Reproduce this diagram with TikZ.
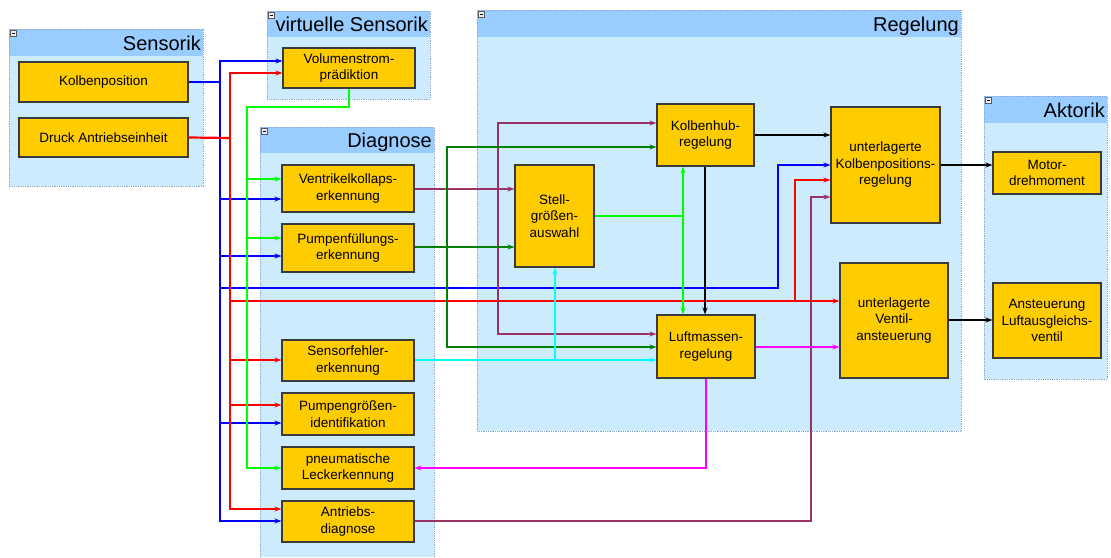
\documentclass[tikz,border=0pt]{standalone}
\usepackage{fontspec}
\setmainfont{Liberation Sans}
\usetikzlibrary{arrows.meta,calc}
\definecolor{grpbg}{HTML}{CCEBFD}
\definecolor{hdrbg}{HTML}{99CCFF}
\definecolor{grpln}{HTML}{8EA6D6}
\definecolor{boxfill}{HTML}{FFCC00}
\definecolor{boxln}{HTML}{3A3A3A}
\definecolor{cpurple}{HTML}{993366}
\definecolor{cdgreen}{HTML}{008000}
\definecolor{cgreen}{HTML}{00FF00}
\definecolor{ccyan}{HTML}{00FFFF}
\definecolor{cmag}{HTML}{FF00FF}
\definecolor{cblue}{HTML}{0000FF}
\definecolor{cred}{HTML}{FF0000}
\tikzset{
  grpborder/.style={draw=grpln, densely dotted, line width=0.8pt},
  grptitle/.style={font=\fontsize{20}{24}\selectfont, inner sep=0pt},
  iconbox/.style={fill=gray!12, draw=gray!70!black, line width=0.4pt},
  iconline/.style={draw=black, line width=0.6pt},
  ybox/.style={draw=boxln, fill=boxfill, line width=1.1pt, align=center, inner sep=0pt,
    font=\fontsize{13.5}{16.5}\selectfont},
  arr/.style={-{Stealth[length=7pt,width=5pt]}},
  wb/.style={draw=cblue, line width=2.2pt},
  wr/.style={draw=cred, line width=2.2pt},
  wg/.style={draw=cgreen, line width=2.2pt},
  wc/.style={draw=ccyan, line width=2.2pt},
  wm/.style={draw=cmag, line width=2.2pt},
  wp/.style={draw=cpurple, line width=1.8pt},
  wd/.style={draw=cdgreen, line width=1.8pt},
  wk/.style={draw=black, line width=1.8pt},
}
\newcommand{\mygroup}[7]{% name, x1, y1, x2, y2, header bottom, title
  \fill[grpbg] (#2,#3) rectangle (#4,#5);
  \fill[hdrbg] (#2,#3) rectangle (#4,#6);
  \draw[grpborder] (#2,#3) rectangle (#4,#5);
  \node[grptitle, anchor=base east] (#1) at ({#4-2},{#6-5.5}) {#7};
  \draw[iconbox] ({#2+1.5},{#3+1.5}) rectangle ({#2+7.5},{#3+7.5});
  \draw[iconline] ({#2+3},{#3+4.5}) -- ({#2+6},{#3+4.5});
}
\begin{document}
\begin{tikzpicture}[x=1pt,y=-1pt]
\useasboundingbox (0,0) rectangle (1111,557);

% ---------- groups ----------
\mygroup{tsens}{9}{29}{203}{186}{56}{Sensorik}
\mygroup{tvirt}{267}{11}{430}{99}{37}{virtuelle Sensorik}
\mygroup{treg}{477}{10}{961}{431}{37}{Regelung}
\mygroup{takt}{984}{96}{1107}{379}{123}{Aktorik}
% Diagnose (runs off the bottom edge)
\fill[grpbg] (260,127) rectangle (434,557);
\fill[hdrbg] (260,127) rectangle (434,153);
\draw[grpborder] (260,557) -- (260,127) -- (434,127) -- (434,557);
\node[grptitle, anchor=base east] (tdiag) at (432,147.5) {Diagnose};
\draw[iconbox] (261.5,128.5) rectangle (267.5,134.5);
\draw[iconline] (263,131.5) -- (266,131.5);

% ---------- boxes ----------
\node[ybox, minimum width=169pt, minimum height=40pt] (kolb) at (103.5,82) {Kolbenposition};
\node[ybox, minimum width=169pt, minimum height=39pt] (druck) at (103.5,137.5) {Druck Antriebseinheit};
\node[ybox, minimum width=132pt, minimum height=40pt] (vol) at (349,68) {Volumenstrom-\\prädiktion};
\node[ybox, minimum width=132pt, minimum height=47pt] (vent) at (348,188.5) {Ventrikelkollaps-\\erkennung};
\node[ybox, minimum width=132pt, minimum height=48pt] (pfuell) at (348,248) {Pumpenfüllungs-\\erkennung};
\node[ybox, minimum width=132pt, minimum height=41pt] (sensf) at (348,360.5) {Sensorfehler-\\erkennung};
\node[ybox, minimum width=132pt, minimum height=42pt] (pgroe) at (348,414) {Pumpengrößen-\\identifikation};
\node[ybox, minimum width=132pt, minimum height=42pt] (pneu) at (348,468) {pneumatische\\Leckerkennung};
\node[ybox, minimum width=132pt, minimum height=41pt] (antr) at (348,521.5) {Antriebs-\\diagnose};
\node[ybox, minimum width=97pt, minimum height=62pt] (khub) at (705.5,135) {Kolbenhub-\\regelung};
\node[ybox, minimum width=79pt, minimum height=102pt] (stell) at (554.5,216) {Stell-\\größen-\\auswahl};
\node[ybox, minimum width=98pt, minimum height=63pt] (luft) at (706,346.5) {Luftmassen-\\regelung};
\node[ybox, minimum width=109pt, minimum height=116pt] (ukpr) at (885.5,165) {unterlagerte\\Kolbenpositions-\\regelung};
\node[ybox, minimum width=108pt, minimum height=115pt] (uva) at (894,320.5) {unterlagerte\\Ventil-\\ansteuerung};
\node[ybox, minimum width=108pt, minimum height=42pt] (motor) at (1047,173) {Motor-\\drehmoment};
\node[ybox, minimum width=108pt, minimum height=75pt] (anst) at (1047,320.5) {Ansteuerung\\Luftausgleichs-\\ventil};

% ---------- blue: Kolbenposition ----------
\draw[wb] (kolb.east) -- (220,82);
\draw[wb,arr] (220,300) -- (220,61) -- (vol.west |- 0,61);
\draw[wb,arr] (220,280) -- (220,521) -- (antr.west |- 0,521);
\draw[wb,arr] (220,199) -- (vent.west |- 0,199);
\draw[wb,arr] (220,256) -- (pfuell.west |- 0,256);
\draw[wb,arr] (220,423) -- (pgroe.west |- 0,423);
\draw[wb,arr] (220,288) -- (778,288) -- (778,165) -- (ukpr.west |- 0,165);

% ---------- red: Druck ----------
\draw[wr] (druck.east) -- (230,138);
\draw[wr,arr] (230,310) -- (230,73) -- (vol.west |- 0,73);
\draw[wr,arr] (230,290) -- (230,509) -- (antr.west |- 0,509);
\draw[wr,arr] (230,360) -- (sensf.west |- 0,360);
\draw[wr,arr] (230,405) -- (pgroe.west |- 0,405);
\draw[wr,arr] (230,301) -- (uva.west |- 0,301);
\draw[wr,arr] (795,301) -- (795,180) -- (ukpr.west |- 0,180);

% ---------- green: Volumenstrom ----------
\draw[wg,arr] (vol.south -| 349,0) -- (349,107) -- (247,107) -- (247,468) -- (pneu.west |- 0,468);
\draw[wg,arr] (247,179) -- (vent.west |- 0,179);
\draw[wg,arr] (247,238) -- (pfuell.west |- 0,238);

% ---------- green: Stellgroessenauswahl ----------
\draw[wg] (stell.east |- 0,216) -- (683,216);
\draw[wg,arr] (683,216) -- (khub.south -| 683,0);
\draw[wg,arr] (683,216) -- (luft.north -| 683,0);

% ---------- purple ----------
\draw[wp,arr] (vent.east |- 0,189) -- (stell.west |- 0,189);
\draw[wp,arr] (498,334) -- (498,123) -- (khub.west |- 0,123);
\draw[wp,arr] (498,123) -- (498,334) -- (luft.west |- 0,334);
\draw[wp,arr] (antr.east |- 0,521) -- (811,521) -- (811,197) -- (ukpr.west |- 0,197);

% ---------- dark green ----------
\draw[wd,arr] (pfuell.east |- 0,247) -- (stell.west |- 0,247);
\draw[wd,arr] (447,347) -- (447,147) -- (khub.west |- 0,147);
\draw[wd,arr] (447,147) -- (447,347) -- (luft.west |- 0,347);

% ---------- cyan ----------
\draw[wc,arr] (sensf.east |- 0,360) -- (luft.west |- 0,360);
\draw[wc,arr] (555,360) -- (stell.south -| 555,0);

% ---------- magenta ----------
\draw[wm,arr] (luft.south -| 706,0) -- (706,468) -- (pneu.east |- 0,468);
\draw[wm,arr] (luft.east |- 0,347) -- (uva.west |- 0,347);

% ---------- black ----------
\draw[wk,arr] (khub.south -| 705,0) -- (luft.north -| 705,0);
\draw[wk,arr] (khub.east |- 0,135) -- (ukpr.west |- 0,135);
\draw[wk,arr] (ukpr.east |- 0,165) -- (motor.west |- 0,165);
\draw[wk,arr] (uva.east |- 0,320) -- (anst.west |- 0,320);
\end{tikzpicture}
\end{document}
